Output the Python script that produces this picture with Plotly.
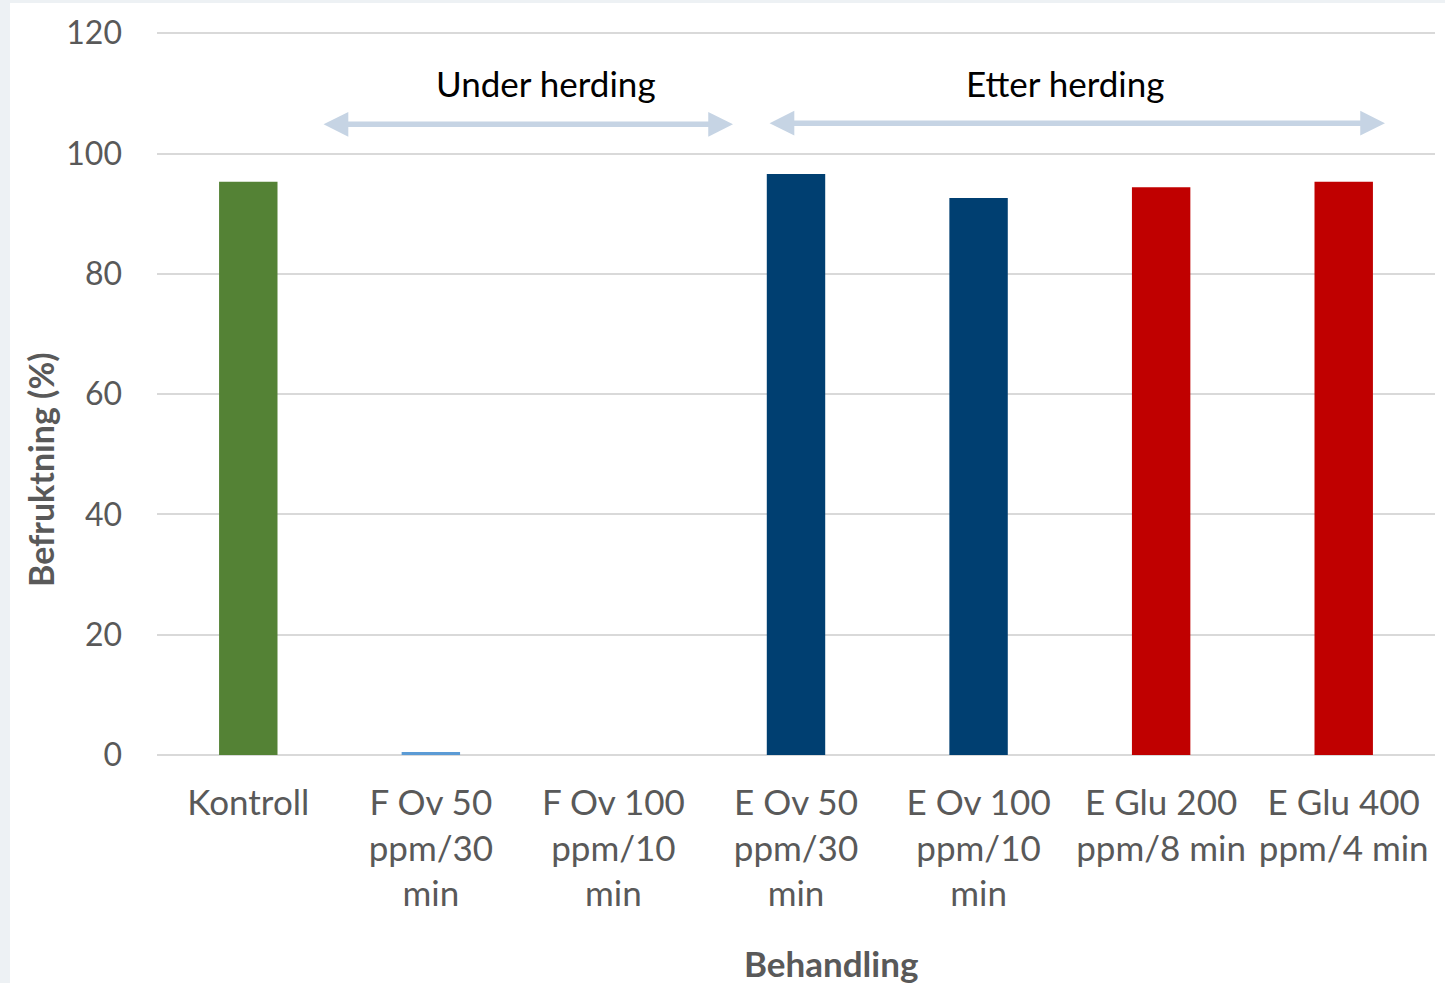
import plotly.graph_objects as go

categories = ["Kontroll", "F Ov 50<br>ppm/30<br>min", "F Ov 100<br>ppm/10<br>min",
              "E Ov 50<br>ppm/30<br>min", "E Ov 100<br>ppm/10<br>min",
              "E Glu 200<br>ppm/8 min", "E Glu 400<br>ppm/4 min"]
values = [95.3, 0.5, 0.0, 96.6, 92.6, 94.4, 95.3]
colors = ["#548235", "#5b9bd5", "#5b9bd5", "#003f71", "#003f71", "#c00000", "#c00000"]
y_ticks = [0, 20, 40, 60, 80, 100, 120]
group_labels = ["Under herding", "Etter herding"]
y_title = "Befruktning (%)"
x_title = "Behandling"

FONT = "Lato"
GREY = "#595959"

fig = go.Figure()
fig.add_trace(go.Bar(x=list(range(len(categories))), y=values, marker=dict(color=colors, line=dict(width=0)),
                     width=0.32, hoverinfo="skip"))

# plot area: x 157..1435 px, y 32..755 px
arrow_color = "#c6d4e4"
arrows = [(0.404, 2.655, 104.85), (2.847, 6.226, 105.05)]
for (x0, x1, yy) in arrows:
    fig.add_annotation(x=x1, y=yy, ax=x0, ay=yy, xref="x", yref="y", axref="x", ayref="y",
                       text="", showarrow=True, arrowhead=2, arrowside="end+start",
                       arrowwidth=5.5, arrowsize=0.9, arrowcolor=arrow_color, standoff=0, startstandoff=0)

fig.add_annotation(x=(546 - 157) / 182.57 - 0.5, y=111.7, xref="x", yref="y", text=group_labels[0],
                   showarrow=False, font=dict(family=FONT, size=35, color="#000000"),
                   xanchor="center", yanchor="middle")
fig.add_annotation(x=(1065 - 157) / 182.57 - 0.5, y=111.7, xref="x", yref="y", text=group_labels[1],
                   showarrow=False, font=dict(family=FONT, size=35, color="#000000"),
                   xanchor="center", yanchor="middle")

# axis titles
fig.add_annotation(x=(40 - 157) / 1278, y=(755 - 470) / 723, xref="paper", yref="paper", text="<b>" + y_title + "</b>",
                   textangle=-90, showarrow=False, font=dict(family=FONT, size=34, color=GREY),
                   xanchor="center", yanchor="middle")
fig.add_annotation(x=(831 - 157) / 1278, y=(755 - 963) / 723, xref="paper", yref="paper", text="<b>" + x_title + "</b>",
                   showarrow=False, font=dict(family=FONT, size=35, color=GREY),
                   xanchor="center", yanchor="middle")

# light grey frame on left and top
fig.add_shape(type="rect", xref="paper", yref="paper", x0=-0.2, x1=(10 - 157) / 1278, y0=-0.5, y1=1.2,
              fillcolor="#edf1f4", line=dict(width=0), layer="below")
fig.add_shape(type="rect", xref="paper", yref="paper", x0=-0.2, x1=1.1, y0=(755 - 3) / 723, y1=1.2,
              fillcolor="#edf1f4", line=dict(width=0), layer="below")

fig.update_layout(
    width=1445, height=983,
    margin=dict(l=157, r=10, t=32, b=228),
    paper_bgcolor="white", plot_bgcolor="white",
    showlegend=False,
    bargap=0.68,
)
fig.update_xaxes(range=[-0.5, 6.5], tickmode="array", tickvals=list(range(len(categories))), ticktext=categories,
                 tickfont=dict(family=FONT, size=35, color=GREY), showgrid=False, zeroline=False,
                 showline=False, ticks="", ticklabelstandoff=24, fixedrange=True)
fig.update_yaxes(range=[0, 120.2], tickmode="array", tickvals=y_ticks,
                 tickfont=dict(family=FONT, size=32, color=GREY), showgrid=True, gridcolor="#d9d9d9",
                 gridwidth=1.5, zeroline=True, zerolinecolor="#d9d9d9", zerolinewidth=2, showline=False,
                 ticks="", ticklabelstandoff=34, fixedrange=True)

fig.write_html("out.html", config={"displayModeBar": False},
               post_script="document.body.style.margin='0';")
